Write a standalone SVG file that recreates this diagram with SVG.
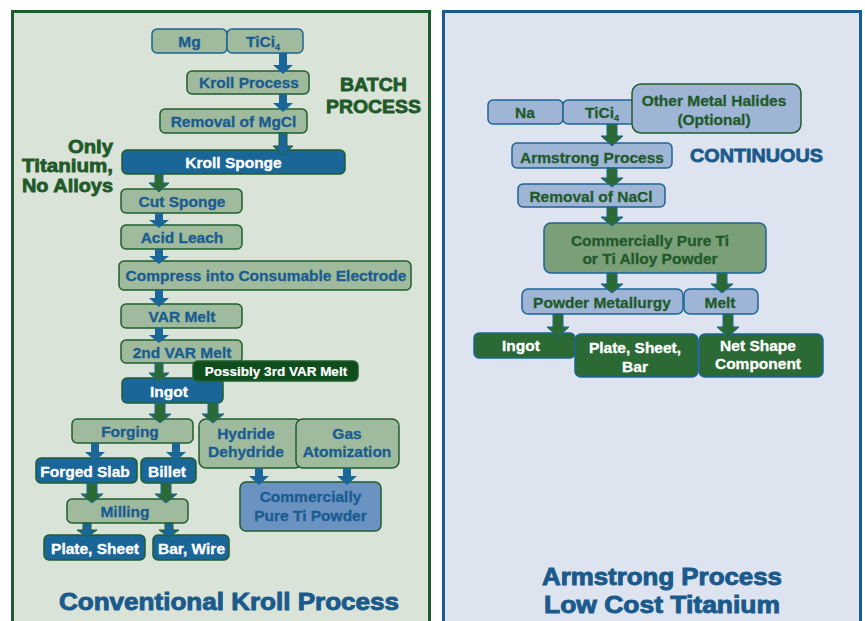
<svg xmlns="http://www.w3.org/2000/svg" width="865" height="621" viewBox="0 0 865 621">
<style>
.bg{fill:#fff}
.pl{fill:#dae3d7;stroke:#1f5c2d;stroke-width:3}
.pr{fill:#dde4ef;stroke:#1b5a8e;stroke-width:3}
.sg{fill:#9fba9c;stroke:#1f5f2d;stroke-width:1.5}
.sgb{fill:#9fba9c;stroke:#1d6496;stroke-width:1.5}
.bl{fill:#1b6698;stroke:#1f5f2d;stroke-width:1.5}
.dg{fill:#0f4d1c;stroke:#1f5f2d;stroke-width:1.5}
.mb{fill:#6a93c2;stroke:#1f5f2d;stroke-width:1.5}
.lb{fill:#9fb5d6;stroke:#1d6496;stroke-width:1.5}
.lbg{fill:#9fb5d6;stroke:#1f5f2d;stroke-width:1.5}
.mg{fill:#7b9f79;stroke:#1d6496;stroke-width:1.5}
.gd{fill:#2b6a35;stroke:#1d6496;stroke-width:1.5}
text{font-family:"Liberation Sans",Arial,Helvetica,sans-serif;font-weight:bold;font-size:15.5px;text-anchor:middle;stroke-width:0.3}
.tb{fill:#1a5c90;stroke:#1a5c90}
.tw{fill:#ffffff;stroke:#ffffff}
.tg{fill:#1f5a2a;stroke:#1f5a2a}
.tc{fill:#1a5a8c;stroke:#1a5a8c}
.h{font-size:19px;stroke-width:0.8}
.t{font-size:23px;stroke-width:0.9}
.s{font-size:13.5px;stroke-width:0.2}
.ab{fill:#1b6698}
.abg{fill:#1b6698;stroke:#1f5f2d;stroke-width:1}
.ag{fill:#2b6a35;stroke:#1b6698;stroke-width:1}
</style>
<rect class="bg" x="0" y="0" width="865" height="621"/>
<rect class="pl" x="12.5" y="11.5" width="417" height="620"/>
<rect class="pr" x="443.5" y="11.5" width="417" height="620"/>

<g id="labels">
<text class="tg h" x="113" y="153" style="text-anchor:end" textLength="45" lengthAdjust="spacingAndGlyphs">Only</text>
<text class="tg h" x="113" y="172" style="text-anchor:end" textLength="91" lengthAdjust="spacingAndGlyphs">Titanium,</text>
<text class="tg h" x="113" y="192" style="text-anchor:end" textLength="91" lengthAdjust="spacingAndGlyphs">No Alloys</text>
<text class="tg h" x="373.5" y="91" textLength="67" lengthAdjust="spacingAndGlyphs">BATCH</text>
<text class="tg h" x="373.5" y="113" textLength="95" lengthAdjust="spacingAndGlyphs">PROCESS</text>
<text class="tc h" x="756.5" y="162" textLength="133" lengthAdjust="spacingAndGlyphs">CONTINUOUS</text>
<text class="tc t" x="229" y="610" textLength="340" lengthAdjust="spacingAndGlyphs">Conventional Kroll Process</text>
<text class="tc t" x="662" y="585" textLength="240" lengthAdjust="spacingAndGlyphs">Armstrong Process</text>
<text class="tc t" x="662" y="613" textLength="236" lengthAdjust="spacingAndGlyphs">Low Cost Titanium</text>
</g>

<g id="mg"><rect class="sgb" x="152" y="29" width="75" height="24" rx="5"/><text class="tb" x="189.5" y="47">Mg</text></g>
<g id="ticl4"><rect class="sgb" x="227" y="29" width="76" height="24" rx="5"/><text class="tb" x="263" y="47">TiCi<tspan font-size="9" dy="3">4</tspan></text></g>
<g id="kroll-process"><rect class="sg" x="187" y="71" width="122" height="23" rx="5"/><text class="tb" x="249" y="88">Kroll Process</text></g>
<g id="removal-mgcl"><rect class="sg" x="160" y="109" width="147" height="24" rx="5"/><text class="tb" x="233.5" y="127">Removal of MgCl</text></g>
<g id="kroll-sponge"><rect class="bl" x="122" y="150" width="223" height="24" rx="5"/><text class="tw" x="233.5" y="168">Kroll Sponge</text></g>
<g id="cut-sponge"><rect class="sg" x="121" y="189" width="121" height="24" rx="5"/><text class="tb" x="182" y="207">Cut Sponge</text></g>
<g id="acid-leach"><rect class="sg" x="121" y="225" width="121" height="24" rx="5"/><text class="tb" x="182" y="243">Acid Leach</text></g>
<g id="compress"><rect class="sg" x="119" y="261" width="292" height="29" rx="5"/><text class="tb" x="266" y="281">Compress into Consumable Electrode</text></g>
<g id="var-melt"><rect class="sg" x="121" y="304" width="121" height="24" rx="5"/><text class="tb" x="182" y="322">VAR Melt</text></g>
<g id="var-melt-2"><rect class="sg" x="121" y="340" width="121" height="23" rx="5"/><text class="tb" x="182" y="358">2nd VAR Melt</text></g>
<g id="ingot-left"><rect class="bl" x="122" y="378" width="101" height="25" rx="5"/><text class="tw" x="169" y="397">Ingot</text></g>
<g id="var-melt-3"><rect class="dg" x="193" y="361" width="165" height="20" rx="5"/><text class="tw s" x="276" y="376">Possibly 3rd VAR Melt</text></g>
<g id="forging"><rect class="sg" x="72" y="419" width="121" height="24" rx="5"/><text class="tb" x="130" y="437">Forging</text></g>
<g id="hydride"><rect class="sg" x="199" y="419" width="103" height="49" rx="7"/><text class="tb" x="246" y="439">Hydride</text><text class="tb" x="246" y="457">Dehydride</text></g>
<g id="gas-atomization"><rect class="sg" x="296" y="419" width="103" height="49" rx="7"/><text class="tb" x="347" y="439">Gas</text><text class="tb" x="347" y="457">Atomization</text></g>
<g id="forged-slab"><rect class="bl" x="36" y="458" width="101" height="25" rx="5"/><text class="tw" x="85" y="477">Forged Slab</text></g>
<g id="billet"><rect class="bl" x="141" y="458" width="55" height="25" rx="5"/><text class="tw" x="167" y="477">Billet</text></g>
<g id="milling"><rect class="sg" x="67" y="499" width="121" height="24" rx="5"/><text class="tb" x="125" y="517">Milling</text></g>
<g id="plate-sheet"><rect class="bl" x="44" y="535" width="101" height="25" rx="5"/><text class="tw" x="95" y="554">Plate, Sheet</text></g>
<g id="bar-wire"><rect class="bl" x="153" y="535" width="76" height="25" rx="5"/><text class="tw" x="191.5" y="554">Bar, Wire</text></g>
<g id="cp-ti-powder"><rect class="mb" x="240" y="482" width="141" height="49" rx="6"/><text class="tb" x="310.5" y="502">Commercially</text><text class="tb" x="310.5" y="521">Pure Ti Powder</text></g>

<g id="na"><rect class="lb" x="488" y="100" width="75" height="24" rx="5"/><text class="tg" x="525" y="118">Na</text></g>
<g id="ticl4-r"><rect class="lb" x="563" y="100" width="75" height="24" rx="5"/><text class="tg" x="602" y="118">TiCi<tspan font-size="9" dy="3">4</tspan></text></g>
<g id="other-halides"><rect class="lbg" x="632" y="84" width="169" height="49" rx="9"/><text class="tg" x="714" y="106">Other Metal Halides</text><text class="tg" x="714" y="125">(Optional)</text></g>
<g id="armstrong"><rect class="lb" x="512" y="143" width="160" height="25" rx="5"/><text class="tg" x="592" y="163">Armstrong Process</text></g>
<g id="removal-nacl"><rect class="lb" x="518" y="184" width="147" height="23" rx="5"/><text class="tg" x="591" y="202">Removal of NaCl</text></g>
<g id="cp-ti-alloy"><rect class="mg" x="544" y="223" width="222" height="50" rx="7"/><text class="tg" x="650" y="246">Commercially Pure Ti</text><text class="tg" x="650" y="264">or Ti Alloy Powder</text></g>
<g id="powder-metallurgy"><rect class="lb" x="522" y="289" width="161" height="25" rx="6"/><text class="tg" x="602" y="308">Powder Metallurgy</text></g>
<g id="melt"><rect class="lb" x="684" y="289" width="74" height="25" rx="6"/><text class="tg" x="720" y="308">Melt</text></g>
<g id="ingot-right"><rect class="gd" x="474" y="333" width="101" height="25" rx="5"/><text class="tw" x="521" y="351">Ingot</text></g>
<g id="plate-sheet-bar"><rect class="gd" x="575" y="334" width="123" height="43" rx="6"/><text class="tw" x="635" y="353">Plate, Sheet,</text><text class="tw" x="635" y="372">Bar</text></g>
<g id="net-shape"><rect class="gd" x="699" y="334" width="124" height="43" rx="6"/><text class="tw" x="758" y="351">Net Shape</text><text class="tw" x="758" y="369">Component</text></g>

<g id="connectors">
<polygon class="ab" points="279,53 287,53 287,65 293,65 283,74 273,65 279,65"/>
<polygon class="ab" points="279,94 287,94 287,103 293,103 283,112 273,103 279,103"/>
<polygon class="abg" points="279,133 287,133 287,146 293,146 283,155 273,146 279,146"/>
<polygon class="ag" points="155,174 163,174 163,183 169,183 159,192 149,183 155,183"/>
<polygon class="ab" points="155,213 163,213 163,220 169,220 159,228 149,220 155,220"/>
<polygon class="ab" points="155,249 163,249 163,256 169,256 159,264 149,256 155,256"/>
<polygon class="ab" points="155,290 163,290 163,298 169,298 159,307 149,298 155,298"/>
<polygon class="ab" points="155,328 163,328 163,335 169,335 159,343 149,335 155,335"/>
<polygon class="ag" points="155,363 163,363 163,373 169,373 159,382 149,373 155,373"/>
<polygon class="ag" points="155,403 165,403 165,414 171,414 160,423 149,414 155,414"/>
<polygon class="ag" points="208,403 218,403 218,414 224,414 213,423 202,414 208,414"/>
<polygon class="ab" points="91,443 99,443 99,452 105,452 95,461 85,452 91,452"/>
<polygon class="ab" points="172,443 180,443 180,452 186,452 176,461 166,452 172,452"/>
<polygon class="ag" points="87,483 97,483 97,494 103,494 92,503 81,494 87,494"/>
<polygon class="ag" points="161,483 171,483 171,494 177,494 166,503 155,494 161,494"/>
<polygon class="abg" points="83,523 91,523 91,530 97,530 87,537 77,530 83,530"/>
<polygon class="abg" points="165,523 173,523 173,530 179,530 169,537 159,530 165,530"/>
<polygon class="ab" points="255,468 263,468 263,476 269,476 259,485 249,476 255,476"/>
<polygon class="ab" points="343,468 351,468 351,476 357,476 347,485 337,476 343,476"/>
<polygon class="ag" points="607,124 617,124 617,136 623,136 612,146 601,136 607,136"/>
<polygon class="ag" points="607,168 617,168 617,178 623,178 612,187 601,178 607,178"/>
<polygon class="ag" points="607,207 617,207 617,217 623,217 612,226 601,217 607,217"/>
<polygon class="ag" points="607,273 617,273 617,284 623,284 612,293 601,284 607,284"/>
<polygon class="ag" points="717,273 727,273 727,284 733,284 722,293 711,284 717,284"/>
<polygon class="ag" points="553,314 563,314 563,327 569,327 558,337 547,327 553,327"/>
<polygon class="ag" points="723,314 733,314 733,327 739,327 728,337 717,327 723,327"/>
</g>
</svg>
